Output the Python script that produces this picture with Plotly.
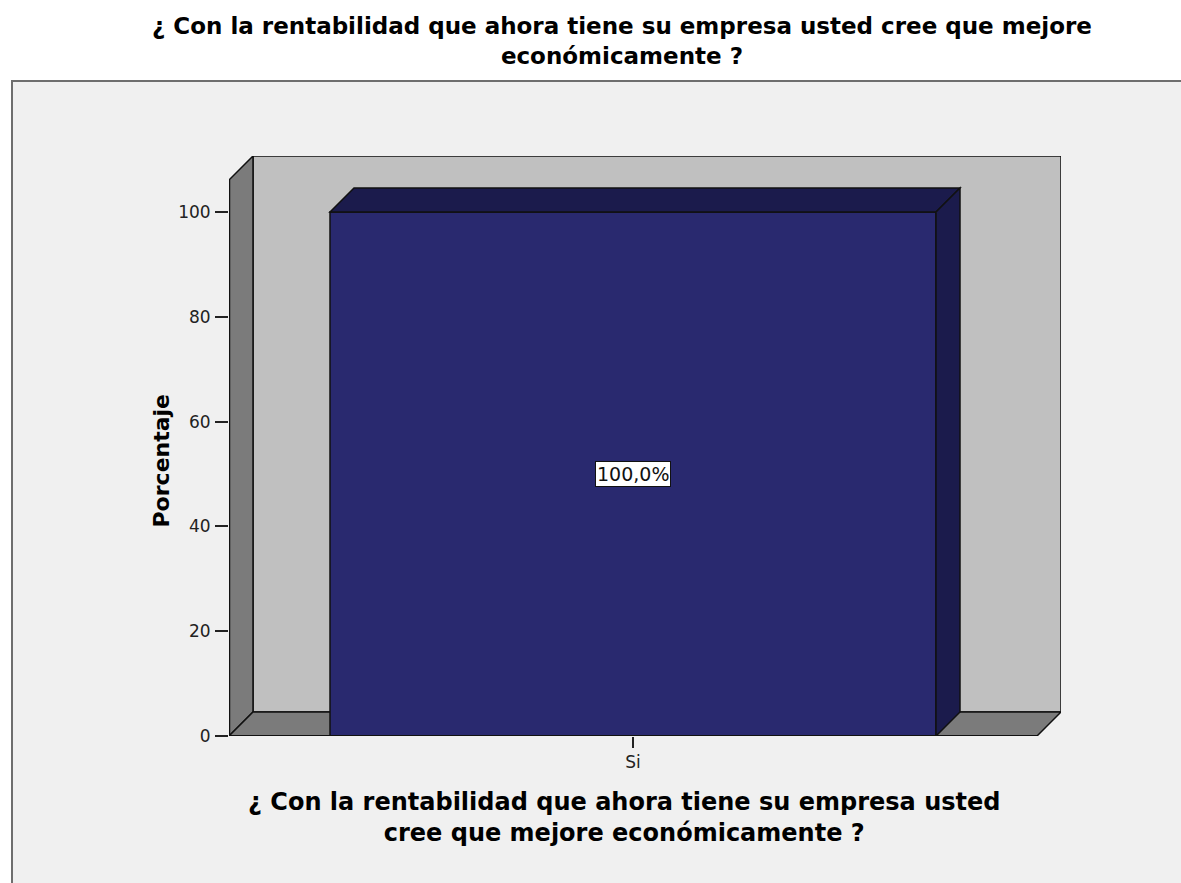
import plotly.graph_objects as go

# data
categories = ["Si"]
percentages = [100.0]
bar_labels = ["100,0%"]
y_ticks = [0, 20, 40, 60, 80, 100]
title_text = "¿ Con la rentabilidad que ahora tiene su empresa usted cree que mejore<br>económicamente ?"
x_title_text = "¿ Con la rentabilidad que ahora tiene su empresa usted<br>cree que mejore económicamente ?"
y_title = "Porcentaje"

# layout in pixels
W, H = 1181, 883
L, R, T, B = 229, 1061, 156, 736
DEPTH = 24
FONT = "DejaVu Sans"

plot_w, plot_h = R - L, B - T
front_w, front_h = plot_w - DEPTH, plot_h - DEPTH
y_front_max = 106.1
ppx = front_w / 1.0
ppy = front_h / y_front_max
dx, dy = DEPTH / ppx, DEPTH / ppy
bar_w = 0.75


def px(xp):
    return (xp - L) / plot_w


def py(yp):
    return (B - yp) / plot_h


xpos = list(range(len(categories)))

fig = go.Figure()
fig.add_trace(go.Bar(
    x=xpos, y=percentages, width=bar_w,
    marker=dict(color="#29296f", line=dict(color="#111111", width=1.5)),
    hoverinfo="skip",
))

shapes = [
    # chart frame
    dict(type="rect", xref="paper", yref="paper", layer="below",
         x0=px(12), x1=px(1220), y0=py(920), y1=py(81),
         fillcolor="#f0f0f0", line=dict(color="#6e6e6e", width=2)),
    # back wall
    dict(type="rect", xref="x", yref="y", layer="below",
         x0=-0.5 + dx, x1=0.5 + dx, y0=dy, y1=y_front_max + dy,
         fillcolor="#c0c0c0", line=dict(color="#111111", width=1.5)),
    # left side wall
    dict(type="path", xref="x", yref="y", layer="below",
         path=f"M -0.5,0 L -0.5,{y_front_max} L {-0.5 + dx},{y_front_max + dy} L {-0.5 + dx},{dy} Z",
         fillcolor="#7b7b7b", line=dict(color="#111111", width=1.5)),
    # floor
    dict(type="path", xref="x", yref="y", layer="below",
         path=f"M -0.5,0 L 0.5,0 L {0.5 + dx},{dy} L {-0.5 + dx},{dy} Z",
         fillcolor="#7b7b7b", line=dict(color="#111111", width=1.5)),
    # front-left axis edge
    dict(type="line", xref="x", yref="y", layer="above",
         x0=-0.5, x1=-0.5, y0=0, y1=y_front_max, line=dict(color="#111111", width=2.5)),
    dict(type="line", xref="x", yref="y", layer="above",
         x0=-0.5, x1=0.5, y0=0, y1=0, line=dict(color="#111111", width=2)),
]

for xc, v in zip(xpos, percentages):
    x0, x1 = xc - bar_w / 2, xc + bar_w / 2
    shapes.append(dict(type="path", xref="x", yref="y", layer="above",
                       path=f"M {x0},{v} L {x1},{v} L {x1 + dx},{v + dy} L {x0 + dx},{v + dy} Z",
                       fillcolor="#1b1b4c", line=dict(color="#111111", width=1.5)))
    shapes.append(dict(type="path", xref="x", yref="y", layer="above",
                       path=f"M {x1},0 L {x1 + dx},{dy} L {x1 + dx},{v + dy} L {x1},{v} Z",
                       fillcolor="#1b1b4c", line=dict(color="#111111", width=1.5)))

annotations = []
for xc, v, lab in zip(xpos, percentages, bar_labels):
    annotations.append(dict(x=xc, y=v / 2, xref="x", yref="y", text=lab, showarrow=False,
                            font=dict(family=FONT, size=19, color="#111111"),
                            bgcolor="white", bordercolor="#111111", borderwidth=1, borderpad=1))

annotations.append(dict(x=px(622), y=py(40.5), xref="paper", yref="paper",
                        text=title_text, showarrow=False, yanchor="middle",
                        font=dict(family=FONT, size=23, color="#000000", weight="bold")))
annotations.append(dict(x=px(624), y=py(817.5), xref="paper", yref="paper",
                        text=x_title_text, showarrow=False, yanchor="middle",
                        font=dict(family=FONT, size=24, color="#000000", weight="bold")))
annotations.append(dict(x=px(146), y=py(461), xref="paper", yref="paper", text=y_title,
                        showarrow=False, textangle=-90,
                        font=dict(family=FONT, size=22, color="#000000", weight="bold")))

fig.update_layout(
    width=W, height=H,
    margin=dict(l=L, r=W - R, t=T, b=H - B, pad=0),
    paper_bgcolor="white",
    plot_bgcolor="rgba(0,0,0,0)",
    showlegend=False,
    shapes=shapes,
    annotations=annotations,
    xaxis=dict(range=[-0.5, 0.5 + dx], tickvals=xpos, ticktext=categories,
               showgrid=False, zeroline=False, showline=False,
               ticks="outside", ticklen=11, tickwidth=2, tickcolor="#222222",
               tickfont=dict(family=FONT, size=17, color="#222222"), fixedrange=True),
    yaxis=dict(range=[0, y_front_max + dy], tickvals=y_ticks,
               showgrid=False, zeroline=False, showline=False,
               ticks="outside", ticklen=13, tickwidth=2, tickcolor="#222222",
               ticklabelstandoff=1,
               tickfont=dict(family=FONT, size=17, color="#222222"), fixedrange=True),
)

# drop the default body margin so the figure fills the window
fig.write_html("out.html", config={"displayModeBar": False},
               post_script="document.body.style.margin='0';document.body.style.overflow='hidden';")
